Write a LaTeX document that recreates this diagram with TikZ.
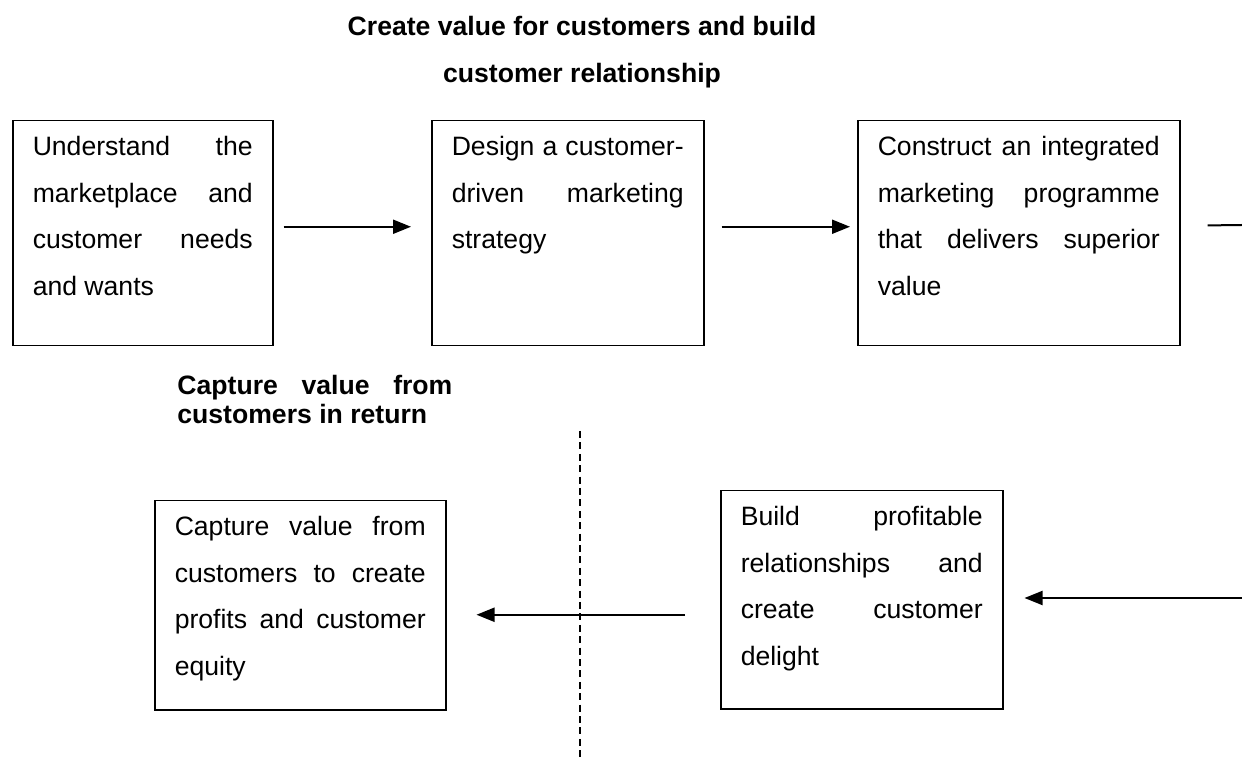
\documentclass[tikz,border=0pt]{standalone}
\usepackage{fontspec}
\setmainfont{Liberation Sans}
\usetikzlibrary{arrows.meta}

\newcommand{\boxtext}[3]{\parbox[t][#2][t]{#1}{\strut #3}}

\begin{document}
\begin{tikzpicture}[x=0.5pt, y=-0.5pt,
        stage/.style = {draw, line width=0.75pt, anchor=north west, inner xsep=10pt, inner ysep=1pt,
                        font=\fontsize{13.3}{23.35}\selectfont},
        heading/.style = {font=\fontsize{13.3}{23.35}\selectfont\bfseries, align=center},
        arrow/.style = {line width=1pt, -{Triangle[length=9pt, width=7pt]}},
        link/.style = {line width=1pt},
        divider/.style = {line width=1pt, dash pattern=on 3.5pt off 2.2pt}
        ]
        \useasboundingbox (0,0) rectangle (1242,758);

        \node[heading] (title) at (582,52) {Create value for customers and build\\customer relationship};

        \node[stage] (b1) at (12,120) {\boxtext{110pt}{110.5pt}{Understand the\linebreak marketplace and\linebreak customer needs\linebreak and wants}};
        \node[stage] (b2) at (431,120) {\boxtext{116pt}{110.5pt}{Design a customer-\linebreak driven marketing\linebreak strategy}};
        \node[stage] (b3) at (857,120) {\boxtext{141pt}{110.5pt}{Construct an integrated\linebreak marketing programme\linebreak that delivers superior\linebreak value}};

        \node[anchor=north west, inner sep=0pt, text width=137.5pt, align=justify,
              font=\fontsize{13.3}{14.5}\selectfont\bfseries] (capture) at (177,375)
              {Capture value from\linebreak customers in return};

        \node[stage] (bl) at (154,500) {\boxtext{125.5pt}{102.5pt}{Capture value from\linebreak customers to create\linebreak profits and customer\linebreak equity}};
        \node[stage] (br) at (720,490) {\boxtext{121pt}{107pt}{Build profitable\linebreak relationships and\linebreak create customer\linebreak delight}};

        \coordinate (edgetop) at (1242,225);
        \coordinate (edgebot) at (1242,598);
        \coordinate (cuttop) at (580,431);
        \coordinate (cutbot) at (580,758);

        \draw[arrow, shorten <=5pt, shorten >=10pt] ([yshift=3.25pt]b1.east) -- ([yshift=3.25pt]b2.west);
        \draw[arrow, shorten <=8.5pt, shorten >=3.5pt] ([yshift=3.25pt]b2.east) -- ([yshift=3.25pt]b3.west);
        \draw[link, shorten <=13.5pt] ([yshift=3.75pt]b3.east) -- (edgetop);
        \draw[arrow, shorten >=10.5pt] (edgebot) -- (edgebot -| br.east);
        \draw[arrow, shorten <=17.5pt, shorten >=15pt] ([yshift=-7.5pt]br.west) -- ([yshift=-7.5pt]br.west -| bl.east);

        \draw[divider] (cuttop) -- (cutbot);

    \end{tikzpicture}
\end{document}
